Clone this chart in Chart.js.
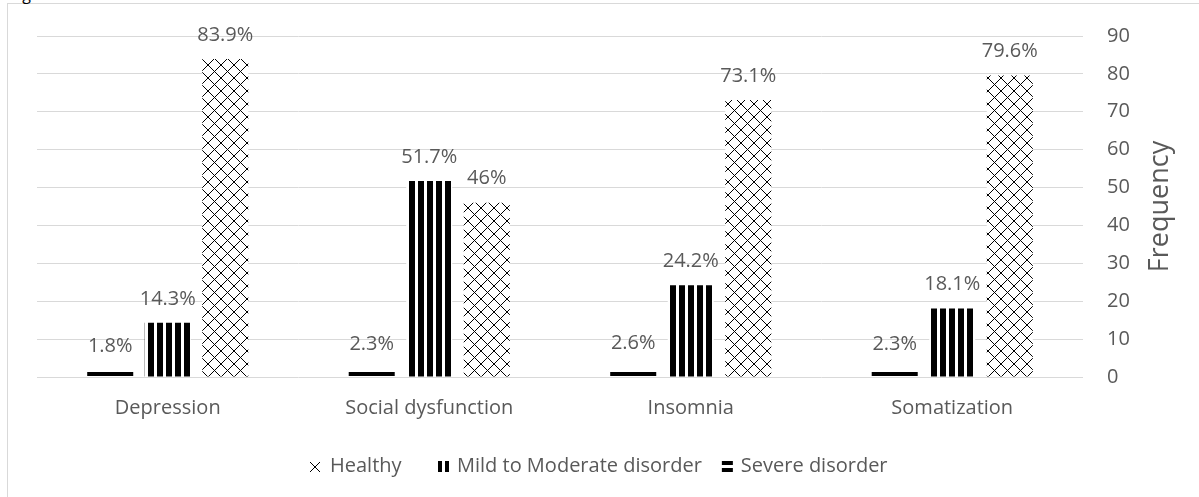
<!DOCTYPE html>
<html lang="en">
<head>
  <meta charset="UTF-8">
  <title>GHQ subscales</title>
  <script src="https://cdn.jsdelivr.net/npm/chart.js"></script>
  <style>
    html, body {
      margin: 0;
      padding: 0;
      background: #fff;
      overflow: hidden;
    }

    #wrap {
      position: relative;
      width: 1199px;
      height: 497px;
    }

    #frame {
      position: absolute;
      left: 7px;
      top: 3px;
      width: 1300px;
      height: 600px;
      border: 1px solid #d9d9d9;
      box-sizing: border-box;
    }

    #caption {
      position: absolute;
      left: 10px;
      top: -17px;
      font: 16px 'Open Sans', sans-serif;
      color: #000;
    }

    canvas {
      position: absolute;
      left: 0;
      top: 0;
    }
  </style>
</head>
<body>
  <div id="wrap">
    <div id="frame"></div>
    <div id="caption">Fig</div>
    <canvas id="ghqChart" width="1199" height="497"></canvas>
  </div>

  <script>
    const categories = ['Depression', 'Social dysfunction', 'Insomnia', 'Somatization'];
    const severeValues = [1.8, 2.3, 2.6, 2.3];
    const mildValues = [14.3, 51.7, 24.2, 18.1];
    const healthyValues = [83.9, 46, 73.1, 79.6];
    const yTicks = [0, 10, 20, 30, 40, 50, 60, 70, 80, 90];

    const FONT = "'Open Sans', sans-serif";
    const GREY = '#595959';

    // fill patterns, drawn pixel by pixel so they stay crisp
    function makePattern(w, h, draw) {
      const c = document.createElement('canvas');
      c.width = w;
      c.height = h;
      const g = c.getContext('2d');
      g.fillStyle = '#fff';
      g.fillRect(0, 0, w, h);
      g.fillStyle = '#000';
      draw(g);
      return c.getContext('2d').createPattern(c, 'repeat');
    }

    const crossPattern = makePattern(13, 13, g => {
      for (let i = 0; i < 13; i++) {
        g.fillRect(i, i, 1, 1);
        g.fillRect(12 - i, i, 1, 1);
      }
    });
    const vertPattern = makePattern(9, 9, g => {
      g.fillRect(4, 0, 6, 9);
      g.fillRect(0, 0, 1, 9);
    });
    const horizPattern = makePattern(10, 10, g => {
      g.fillRect(0, 2, 10, 4);
    });

    const ctx = document.getElementById('ghqChart').getContext('2d');

    // value labels above each bar
    const valueLabels = {
      id: 'valueLabels',
      afterDatasetsDraw(chart) {
        const c = chart.ctx;
        c.save();
        c.font = '20px ' + FONT;
        c.fillStyle = GREY;
        c.textAlign = 'center';
        c.textBaseline = 'middle';
        chart.data.datasets.forEach((ds, i) => {
          chart.getDatasetMeta(i).data.forEach((bar, j) => {
            c.fillText(ds.data[j] + '%', bar.x, bar.y - 24);
          });
        });
        c.restore();
      }
    };

    // rotated axis title on the right, reading bottom to top
    const rightTitle = {
      id: 'rightTitle',
      afterDraw(chart) {
        const c = chart.ctx;
        const a = chart.chartArea;
        c.save();
        c.translate(1160, (a.top + a.bottom) / 2);
        c.rotate(-Math.PI / 2);
        c.font = '27px ' + FONT;
        c.fillStyle = GREY;
        c.textAlign = 'center';
        c.textBaseline = 'middle';
        c.fillText('Frequency', 0, 0);
        c.restore();
      }
    };

    // legend at the bottom, healthy first
    const bottomLegend = {
      id: 'bottomLegend',
      afterDraw(chart) {
        const c = chart.ctx;
        const y = 466;
        c.save();
        c.font = '20px ' + FONT;
        c.textBaseline = 'middle';
        c.textAlign = 'left';

        // healthy: small x
        c.fillStyle = '#000';
        for (let i = 0; i < 10; i++) {
          c.fillRect(310 + i, y - 4 + i, 1, 1);
          c.fillRect(319 - i, y - 4 + i, 1, 1);
        }
        c.fillStyle = GREY;
        c.fillText('Healthy', 330, y);

        // mild: two vertical bars
        c.fillStyle = '#000';
        c.fillRect(438, y - 5, 4, 11);
        c.fillRect(445, y - 5, 4, 11);
        c.fillStyle = GREY;
        c.fillText('Mild to Moderate disorder', 457, y);

        // severe: two horizontal bars
        const sx = 457 + c.measureText('Mild to Moderate disorder').width + 20;
        c.fillStyle = '#000';
        c.fillRect(sx, y - 5, 11, 4);
        c.fillRect(sx, y + 2, 11, 4);
        c.fillStyle = GREY;
        c.fillText('Severe disorder', sx + 19, y);
        c.restore();
      }
    };

    new Chart(ctx, {
      type: 'bar',
      data: {
        labels: categories,
        datasets: [
          {
            label: 'Severe disorder',
            data: severeValues,
            backgroundColor: horizPattern,
            borderWidth: 0,
            categoryPercentage: 0.66,
            barPercentage: 0.8
          },
          {
            label: 'Mild to Moderate disorder',
            data: mildValues,
            backgroundColor: vertPattern,
            borderWidth: 0,
            categoryPercentage: 0.66,
            barPercentage: 0.8
          },
          {
            label: 'Healthy',
            data: healthyValues,
            backgroundColor: crossPattern,
            borderWidth: 0,
            categoryPercentage: 0.66,
            barPercentage: 0.8
          }
        ]
      },
      options: {
        responsive: false,
        animation: false,
        layout: {
          padding: { left: 37, top: 33, right: 0, bottom: 0 }
        },
        plugins: {
          legend: { display: false },
          tooltip: { enabled: false }
        },
        scales: {
          x: {
            grid: { display: false, drawTicks: false },
            border: { display: false },
            ticks: {
              color: GREY,
              font: { family: FONT, size: 20 },
              padding: 19,
              maxRotation: 0
            },
            afterFit(scale) { scale.height = 120; }
          },
          y: {
            position: 'right',
            min: 0,
            max: 90,
            afterBuildTicks(scale) {
              scale.ticks = yTicks.map(v => ({ value: v }));
            },
            grid: { color: '#d9d9d9', drawTicks: false },
            border: { display: false },
            ticks: {
              color: GREY,
              font: { family: FONT, size: 20 },
              padding: 24
            },
            afterFit(scale) { scale.width = 116; }
          }
        }
      },
      plugins: [valueLabels, rightTitle, bottomLegend]
    });
  </script>
</body>
</html>
